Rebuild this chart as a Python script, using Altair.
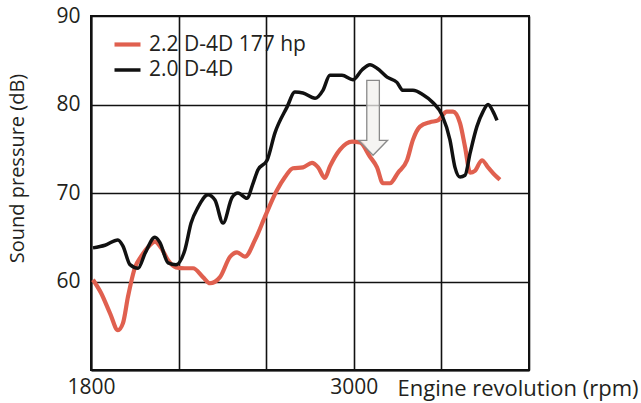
import altair as alt
import pandas as pd

# 2.0 D-4D (black)
rpm_20 = [1809, 1864, 1923, 1946, 1978, 2015, 2047, 2092, 2115, 2152, 2188, 2229, 2257, 2289,
          2334, 2366, 2403, 2444, 2471, 2512, 2540, 2562, 2604, 2640, 2695, 2731, 2768, 2823,
          2859, 2891, 2946, 2996, 3037, 3074, 3106, 3152, 3197, 3225, 3270, 3316, 3362, 3403,
          3439, 3462, 3485, 3508, 3531, 3562, 3590, 3613, 3636, 3654]
db_20 = [63.8, 64.1, 64.7, 64.0, 61.9, 61.5, 63.2, 65.0, 64.4, 62.1, 61.9, 63.6, 66.6, 68.4,
         69.8, 69.2, 66.6, 69.5, 70.0, 69.4, 71.1, 72.6, 73.7, 76.8, 79.7, 81.4, 81.3, 80.7,
         81.6, 83.3, 83.3, 82.8, 83.9, 84.5, 84.1, 83.1, 82.5, 81.6, 81.6, 81.1, 80.2, 78.8,
         76.0, 72.9, 71.8, 72.0, 74.5, 77.5, 79.2, 80.0, 79.2, 78.2]

# 2.2 D-4D 177 hp (red)
rpm_22 = [1809, 1846, 1887, 1923, 1946, 1969, 2001, 2028, 2069, 2092, 2120, 2152, 2188, 2229,
          2266, 2311, 2343, 2389, 2435, 2467, 2503, 2549, 2594, 2649, 2686, 2722, 2768, 2809,
          2837, 2868, 2891, 2937, 2992, 3028, 3074, 3106, 3133, 3165, 3202, 3243, 3270, 3302,
          3348, 3384, 3425, 3453, 3485, 3508, 3531, 3553, 3585, 3613, 3645, 3667]
db_22 = [60.2, 58.7, 56.4, 54.5, 55.3, 58.3, 61.6, 62.8, 64.1, 64.5, 63.8, 62.4, 61.6, 61.5,
         61.5, 60.5, 59.8, 60.5, 62.8, 63.3, 62.8, 64.7, 67.3, 70.3, 71.8, 72.8, 72.9, 73.4,
         72.9, 71.7, 73.0, 74.9, 75.8, 75.7, 74.1, 72.9, 71.1, 71.1, 72.3, 73.7, 76.0, 77.5,
         78.0, 78.2, 79.2, 79.2, 77.9, 75.2, 72.3, 72.5, 73.7, 72.9, 72.0, 71.5]

series_names = ["2.2 D-4D 177 hp", "2.0 D-4D"]
series_colors = ["#e0604f", "#111111"]
series_widths = [4.2, 3.5]

x_ticks = [1800, 2200, 2600, 3000, 3400, 3800]
x_labeled = [1800, 3000]
y_ticks = [50, 60, 70, 80, 90]

arrow_rpm = [3088]
arrow_db = [78.5]

FONT = "Open Sans"
TXT = "#231f20"

df = pd.concat([
    pd.DataFrame({"rpm": rpm_22, "db": db_22, "engine": series_names[0]}),
    pd.DataFrame({"rpm": rpm_20, "db": db_20, "engine": series_names[1]}),
])
arrow_df = pd.DataFrame({"rpm": arrow_rpm, "db": arrow_db})

x_scale = alt.Scale(domain=[1800, 3800], nice=False, zero=False)
y_scale = alt.Scale(domain=[50, 90], nice=False, zero=False)

label_expr_x = " || ".join(f"datum.value == {v}" for v in x_labeled)

lines = alt.Chart(df).mark_line(interpolate="monotone").encode(
    x=alt.X("rpm:Q", scale=x_scale,
            axis=alt.Axis(values=x_ticks, format="d", title="Engine revolution (rpm)",
                          labelExpr=f"({label_expr_x}) ? datum.label : ''",
                          grid=True, ticks=False, labelPadding=6,
                          titleX=547, titleY=25, titleAlign="right",
                          titleBaseline="alphabetic", labelFlush=False,
                          titleFontSize=22)),
    y=alt.Y("db:Q", scale=y_scale,
            axis=alt.Axis(values=y_ticks, title="Sound pressure (dB)",
                          labelExpr="datum.value == 50 ? '' : datum.label",
                          grid=True, ticks=False, labelPadding=11,
                          titleX=-68, titleY=152, titleAlign="center",
                          titleBaseline="alphabetic", titleAngle=-90,
                          titleFontSize=20)),
    color=alt.Color("engine:N",
                    scale=alt.Scale(domain=series_names, range=series_colors),
                    legend=alt.Legend(title=None, orient="none", legendX=21, legendY=13,
                                      symbolType="stroke", symbolSize=676,
                                      symbolStrokeWidth=6, labelOffset=6,
                                      rowPadding=-8, padding=0)),
    strokeWidth=alt.StrokeWidth("engine:N",
                                scale=alt.Scale(domain=series_names, range=series_widths),
                                legend=None),
)

arrow_path = ("M -0.168 -1 L 0.168 -1 L 0.168 0.6 L 0.387 0.6 L 0 1 "
              "L -0.387 0.6 L -0.168 0.6 Z")
arrow = alt.Chart(arrow_df).mark_point(
    shape=arrow_path, size=5625, filled=True, fill="#f2f0ee", fillOpacity=0.75,
    stroke="#8a8a8a", strokeWidth=1.3, opacity=1,
).encode(x=alt.X("rpm:Q", scale=x_scale), y=alt.Y("db:Q", scale=y_scale))

chart = alt.layer(lines, arrow).properties(
    width=438, height=354,
    autosize=alt.AutoSizeParams(type="none"),
    padding={"left": 91, "top": 16, "right": 112, "bottom": 33},
).configure(
    font=FONT,
).configure_view(
    stroke="#111111", strokeWidth=2,
).configure_axis(
    gridColor="#111111", gridWidth=1.6, gridOpacity=1,
    domainColor="#111111", domainWidth=2,
    labelFont=FONT, labelFontSize=21, labelColor=TXT,
    titleFont=FONT, titleFontWeight="normal", titleColor=TXT,
).configure_legend(
    labelFont=FONT, labelFontSize=21, labelColor=TXT,
)

chart.save("out.html", embed_options={"renderer": "svg", "actions": False})
